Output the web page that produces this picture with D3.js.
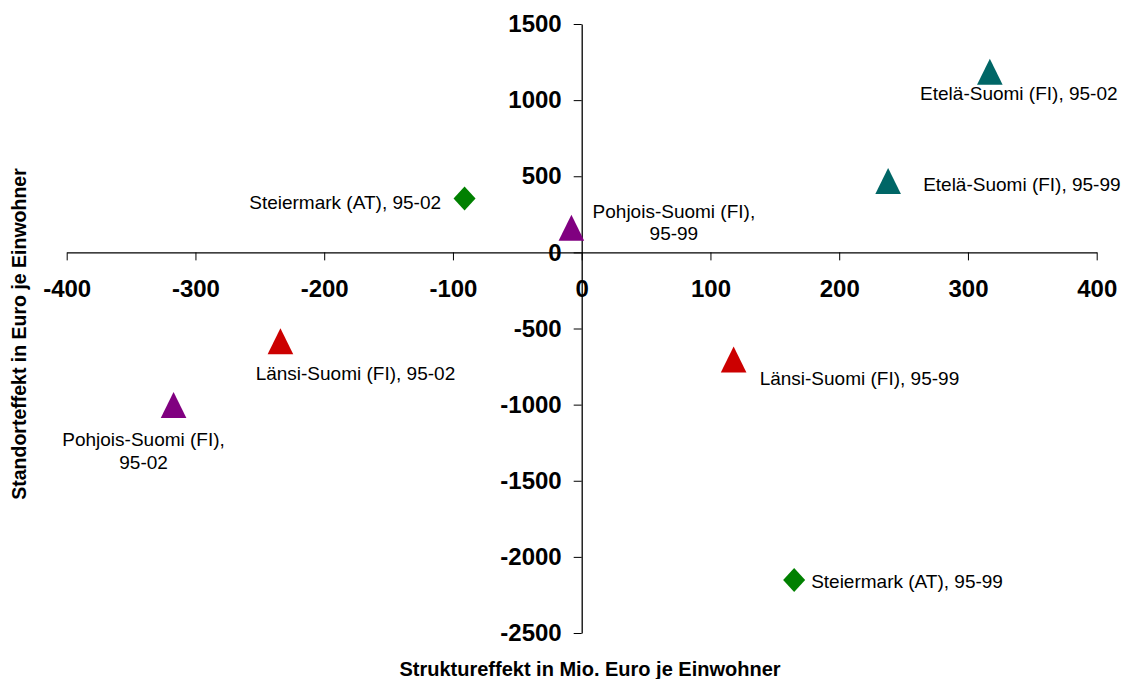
<!DOCTYPE html>
<html>
<head>
<meta charset="utf-8">
<script src="https://cdn.jsdelivr.net/npm/d3@7"></script>
<style>
  html, body { margin: 0; padding: 0; background: #fff; }
  svg { display: block; font-family: "Liberation Sans", Arial, sans-serif; }
</style>
</head>
<body>
<svg id="chart" width="1123" height="679"></svg>
<script>
// Regions and periods (label lines per point)
const pointLabels = [
  ["Etelä-Suomi (FI), 95-02"],
  ["Etelä-Suomi (FI), 95-99"],
  ["Steiermark (AT), 95-02"],
  ["Pohjois-Suomi (FI),", "95-99"],
  ["Länsi-Suomi (FI), 95-02"],
  ["Pohjois-Suomi (FI),", "95-02"],
  ["Länsi-Suomi (FI), 95-99"],
  ["Steiermark (AT), 95-99"]
];
// Struktureffekt (x) and Standorteffekt (y)
const strukturEffekt = [317, 238, -91, -8, -234, -317, 118, 165];
const standortEffekt = [1187, 468, 354, 162, -583, -1003, -704, -2152];
const region = ["Etelä-Suomi", "Etelä-Suomi", "Steiermark", "Pohjois-Suomi", "Länsi-Suomi", "Pohjois-Suomi", "Länsi-Suomi", "Steiermark"];

const xTicks = [-400, -300, -200, -100, 0, 100, 200, 300, 400];
const yTicks = [1500, 1000, 500, 0, -500, -1000, -1500, -2000, -2500];

// Appearance per region
const regionColor = {
  "Etelä-Suomi": "#006666",
  "Steiermark": "#008000",
  "Pohjois-Suomi": "#800080",
  "Länsi-Suomi": "#cc0000"
};
const regionShape = {
  "Etelä-Suomi": "triangle",
  "Steiermark": "diamond",
  "Pohjois-Suomi": "triangle",
  "Länsi-Suomi": "triangle"
};
// Label placement relative to each marker: [dx, first-line dy, anchor]
const labelPlacement = [
  [29, 28, "middle"],
  [35, 9.5, "start"],
  [-23.5, 10.5, "end"],
  [102.5, -10, "middle"],
  [75, 39, "middle"],
  [-30, 41, "middle"],
  [26, 25.5, "start"],
  [17, 8, "start"]
];

const svg = d3.select("#chart");

const x = d3.scaleLinear().domain([-400, 400]).range([66.7, 1096.7]);
const y = d3.scaleLinear().domain([-2500, 1500]).range([633, 24]);

// Marker outlines centred on the point
const shapes = {
  triangle: "M0,-13L12.8,13L-12.8,13Z",
  diamond: "M0,-12L11,0L0,12L-11,0Z"
};

// Axes crossing at the origin
const xAxis = d3.axisBottom(x).tickValues(xTicks).tickSize(8).tickSizeOuter(0).tickPadding(20)
  .tickFormat(d3.format("d"));
const yAxis = d3.axisLeft(y).tickValues(yTicks).tickSize(8).tickSizeOuter(0).tickPadding(12)
  .tickFormat(d3.format("d"));

const gx = svg.append("g").attr("transform", `translate(0,${y(0)})`).call(xAxis);
const gy = svg.append("g").attr("transform", `translate(${x(0)},0)`).call(yAxis);

[gx, gy].forEach(g => {
  g.selectAll(".domain").attr("stroke", "#000").attr("stroke-width", 1.3);
  g.selectAll(".tick line").attr("stroke", "#000").attr("stroke-width", 1);
  g.selectAll(".tick text")
    .attr("fill", "#000")
    .style("font-size", "24px")
    .style("font-weight", "bold")
    .style("font-family", "'Liberation Sans', Arial, sans-serif")
    .text(d => String(d));
});

// Markers
const pts = strukturEffekt.map((v, i) => ({
  x: v, y: standortEffekt[i], region: region[i], lines: pointLabels[i], place: labelPlacement[i]
}));

svg.append("g").selectAll("path")
  .data(pts)
  .join("path")
  .attr("transform", d => `translate(${x(d.x)},${y(d.y)})`)
  .attr("d", d => shapes[regionShape[d.region]])
  .attr("fill", d => regionColor[d.region]);

// Point labels
const lab = svg.append("g").selectAll("text")
  .data(pts)
  .join("text")
  .attr("x", d => x(d.x) + d.place[0])
  .attr("y", d => y(d.y) + d.place[1])
  .attr("text-anchor", d => d.place[2])
  .style("font-size", "19px")
  .attr("fill", "#000");

lab.selectAll("tspan")
  .data(d => d.lines.map((t, k) => ({ t, k, d })))
  .join("tspan")
  .attr("x", o => x(o.d.x) + o.d.place[0])
  .attr("dy", o => o.k === 0 ? 0 : 22.5)
  .text(o => o.t);

// Axis titles
svg.append("text")
  .attr("x", 590).attr("y", 676)
  .attr("text-anchor", "middle")
  .style("font-size", "20px").style("font-weight", "bold")
  .text("Struktureffekt in Mio. Euro je Einwohner");

svg.append("text")
  .attr("transform", "translate(26,334) rotate(-90)")
  .attr("text-anchor", "middle")
  .style("font-size", "19.5px").style("font-weight", "bold")
  .text("Standorteffekt in Euro je Einwohner");
</script>
</body>
</html>
